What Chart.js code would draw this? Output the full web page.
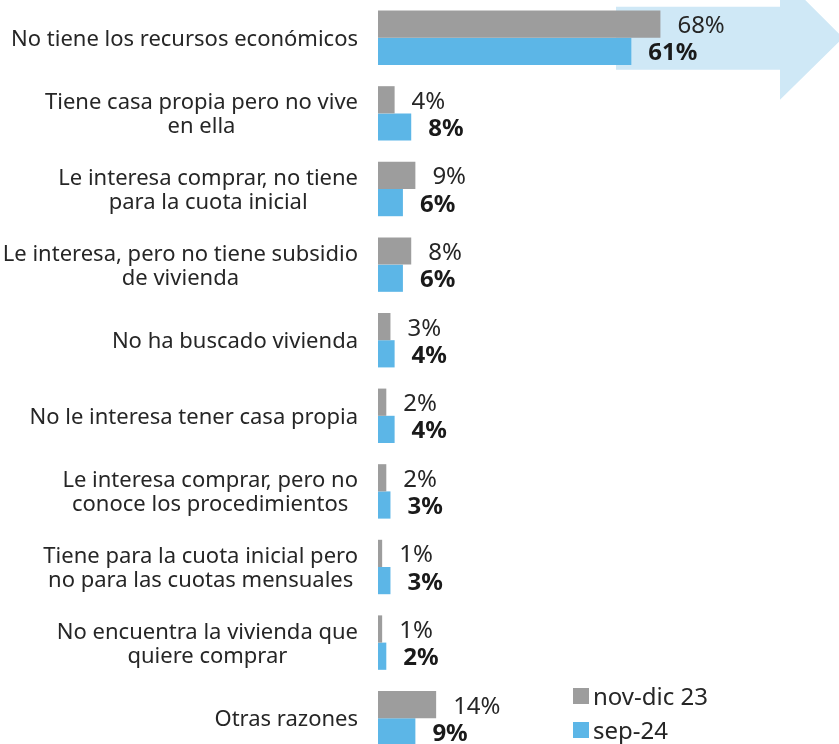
<!DOCTYPE html>
<html>
<head>
<meta charset="utf-8">
<script src="https://cdn.jsdelivr.net/npm/chart.js@4.4.1/dist/chart.umd.min.js"></script>
<style>
  html, body { margin: 0; padding: 0; background: #ffffff; overflow: hidden; width: 839px; height: 744px; }
  #wrap { width: 839px; height: 756px; }
  canvas { display: block; }
</style>
</head>
<body>
<div id="wrap"><canvas id="c" width="839" height="756"></canvas></div>
<script>
// ---- data ----
const categories = [
  ["No tiene los recursos económicos"],
  ["Tiene casa propia pero no vive", "en ella"],
  ["Le interesa comprar, no tiene", "para la cuota inicial"],
  ["Le interesa, pero no tiene subsidio", "de vivienda"],
  ["No ha buscado vivienda"],
  ["No le interesa tener casa propia"],
  ["Le interesa comprar, pero no", "conoce los procedimientos"],
  ["Tiene para la cuota inicial pero", "no para las cuotas mensuales"],
  ["No encuentra la vivienda que", "quiere comprar"],
  ["Otras razones"]
];
const seriesNames = ["nov-dic 23", "sep-24"];
const novDic23 = [68, 4, 9, 8, 3, 2, 2, 1, 1, 14];
const sep24 = [61, 8, 6, 6, 4, 4, 3, 3, 2, 9];

// ---- styles ----
const FONT = '"Noto Sans", "Liberation Sans", sans-serif';
const GRAY = '#9d9d9d';
const BLUE = '#5cb6e7';
const ARROW = '#cfe8f6';
const TEXT = '#262626';

const arrowPlugin = {
  id: 'arrowBg',
  beforeDatasetsDraw(chart) {
    const ctx = chart.ctx;
    const ys = chart.scales.y;
    const L = chart.chartArea.left;
    const yc = ys.getPixelForValue(0);
    ctx.save();
    ctx.fillStyle = ARROW;
    ctx.beginPath();
    ctx.moveTo(L + 238, yc - 31);
    ctx.lineTo(L + 402, yc - 31);
    ctx.lineTo(L + 402, yc - 63);
    ctx.lineTo(L + 465, yc);
    ctx.lineTo(L + 402, yc + 62);
    ctx.lineTo(L + 402, yc + 32);
    ctx.lineTo(L + 238, yc + 32);
    ctx.closePath();
    ctx.fill();
    ctx.restore();
  }
};

const labelsPlugin = {
  id: 'labelsDraw',
  afterDatasetsDraw(chart) {
    const ctx = chart.ctx;
    const ys = chart.scales.y;
    const area = chart.chartArea;
    ctx.save();
    // category labels (right-aligned block, lines centered)
    ctx.font = '22px ' + FONT;
    ctx.fillStyle = TEXT;
    ctx.textAlign = 'center';
    ctx.textBaseline = 'alphabetic';
    const right = area.left - 20;
    const lh = 24;
    chart.data.labels.forEach((lines, i) => {
      const yc = ys.getPixelForValue(i);
      let w = 0;
      lines.forEach(l => { w = Math.max(w, ctx.measureText(l).width); });
      const cx = right - w / 2;
      lines.forEach((l, k) => {
        const y = yc + (k - (lines.length - 1) / 2) * lh;
        ctx.fillText(l, cx, y + 8);
      });
    });
    // value labels
    ctx.textAlign = 'left';
    chart.data.datasets.forEach((ds, di) => {
      const meta = chart.getDatasetMeta(di);
      ctx.font = (di === 1 ? 'bold ' : '') + '24px ' + FONT;
      ctx.fillStyle = di === 1 ? '#1a1a1a' : TEXT;
      meta.data.forEach((bar, i) => {
        ctx.fillText(ds.data[i] + '%', bar.x + 17, bar.y + 9);
      });
    });
    // legend
    const lx = area.left + 195;
    const rows = [area.bottom - 60, area.bottom - 26];
    chart.data.datasets.forEach((ds, di) => {
      const cy = rows[di];
      ctx.fillStyle = ds.backgroundColor;
      ctx.fillRect(lx, cy - 8, 16, 16);
      ctx.font = '24px ' + FONT;
      ctx.fillStyle = TEXT;
      ctx.fillText(ds.label, lx + 20, cy + 9);
    });
    ctx.restore();
  }
};

new Chart(document.getElementById('c'), {
  type: 'bar',
  data: {
    labels: categories,
    datasets: [
      { label: seriesNames[0], data: novDic23, backgroundColor: GRAY, categoryPercentage: 0.72, barPercentage: 1.0 },
      { label: seriesNames[1], data: sep24, backgroundColor: BLUE, categoryPercentage: 0.72, barPercentage: 1.0 }
    ]
  },
  options: {
    indexAxis: 'y',
    responsive: false,
    animation: false,
    devicePixelRatio: 1,
    layout: { padding: { left: 378, right: 0, top: 0, bottom: 0 } },
    plugins: { legend: { display: false }, tooltip: { enabled: false } },
    scales: {
      x: { display: false, min: 0, max: 111 },
      y: { display: false }
    }
  },
  plugins: [arrowPlugin, labelsPlugin]
});
</script>
</body>
</html>
